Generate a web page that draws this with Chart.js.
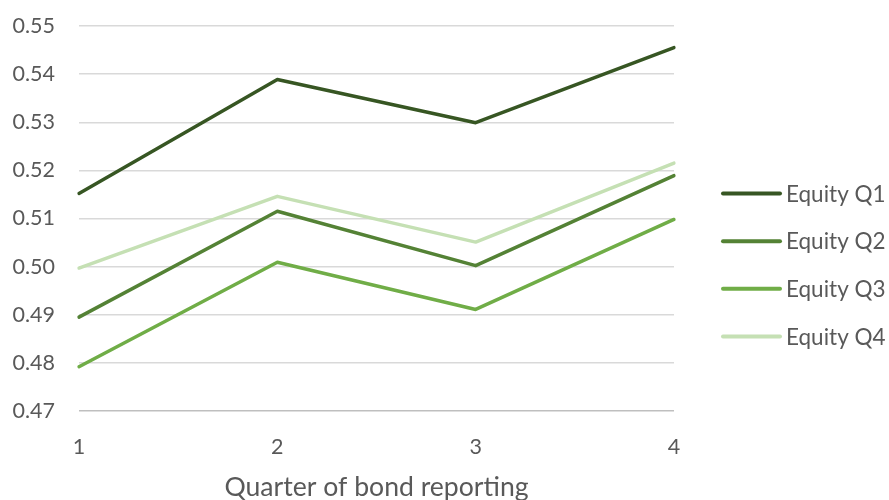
<!DOCTYPE html>
<html>
<head>
<meta charset="utf-8">
<script src="https://cdn.jsdelivr.net/npm/chart.js@4"></script>
<style>
  html, body { margin: 0; padding: 0; background: #ffffff; }
  #wrap { width: 889px; height: 500px; }
</style>
</head>
<body>
<div id="wrap"><canvas id="chart" width="889" height="500"></canvas></div>
<script>
// Quarters on the x axis
const quarters = ['1', '2', '3', '4'];

// Series values per equity quartile
const equityQ1 = [0.5152, 0.5389, 0.5299, 0.5455];
const equityQ2 = [0.4895, 0.5115, 0.5002, 0.5189];
const equityQ3 = [0.4792, 0.5009, 0.4911, 0.5098];
const equityQ4 = [0.4997, 0.5146, 0.5051, 0.5215];

const seriesNames = ['Equity Q1', 'Equity Q2', 'Equity Q3', 'Equity Q4'];
const seriesColors = ['#375623', '#548235', '#70ad47', '#c5e0b4'];

// Y axis range and step
const yMin = 0.47;
const yMax = 0.55;
const yStep = 0.01;

const textColor = '#595959';
const fontFamily = 'Lato, "Open Sans", sans-serif';

const seriesValues = [equityQ1, equityQ2, equityQ3, equityQ4];

const datasets = seriesValues.map((vals, i) => ({
  label: seriesNames[i],
  data: vals,
  borderColor: seriesColors[i],
  backgroundColor: seriesColors[i],
  borderWidth: 3.5,
  borderCapStyle: 'round',
  borderJoinStyle: 'round',
  pointRadius: 0,
  pointHoverRadius: 0,
  tension: 0,
  fill: false
}));

// Legend drawn to the right of the plot area, one row per series
const sideLegend = {
  id: 'sideLegend',
  afterDraw(chart) {
    const { ctx, chartArea } = chart;
    const lineStart = chartArea.right + 49;
    const lineLen = 57;
    const textGap = 6;
    const rowStep = 47.7;
    const sets = chart.data.datasets;
    const midY = chart.height / 2 + 15;
    const firstY = midY - rowStep * (sets.length - 1) / 2;
    ctx.save();
    ctx.font = '22.5px ' + fontFamily;
    ctx.textBaseline = 'middle';
    ctx.textAlign = 'left';
    sets.forEach((ds, i) => {
      const y = firstY + i * rowStep;
      ctx.strokeStyle = ds.borderColor;
      ctx.lineWidth = 4;
      ctx.lineCap = 'round';
      ctx.beginPath();
      ctx.moveTo(lineStart, y);
      ctx.lineTo(lineStart + lineLen, y);
      ctx.stroke();
      ctx.fillStyle = textColor;
      ctx.fillText(ds.label, lineStart + lineLen + textGap, y + 1);
    });
    ctx.restore();
  }
};

new Chart(document.getElementById('chart'), {
  type: 'line',
  data: { labels: quarters, datasets: datasets },
  plugins: [sideLegend],
  options: {
    responsive: false,
    animation: false,
    devicePixelRatio: 1,
    layout: { padding: { top: 26, right: 215, bottom: 0, left: 10 } },
    plugins: {
      tooltip: { enabled: false },
      legend: { display: false }
    },
    scales: {
      x: {
        type: 'category',
        offset: false,
        afterFit: (scale) => { scale.height = 89; },
        grid: { display: false, drawTicks: false },
        border: { display: false },
        ticks: {
          color: textColor,
          padding: 23,
          font: { family: fontFamily, size: 21.5 }
        },
        title: {
          display: true,
          text: 'Quarter of bond reporting',
          color: textColor,
          padding: { top: 0, bottom: -3 },
          font: { family: fontFamily, size: 26.6 }
        }
      },
      y: {
        min: yMin,
        max: yMax,
        afterFit: (scale) => {
          scale.width = 69;
          scale.paddingTop = 13;
          scale.paddingBottom = 13;
        },
        grid: {
          color: (ctx) => ctx.tick && Math.abs(ctx.tick.value - yMin) < 1e-9 ? '#bfbfbf' : '#d9d9d9',
          lineWidth: 1.5,
          drawTicks: false
        },
        border: { display: false },
        ticks: {
          stepSize: yStep,
          color: textColor,
          padding: 24,
          font: { family: fontFamily, size: 21.5 },
          callback: (v) => Number(v).toFixed(2)
        }
      }
    }
  }
});
</script>
</body>
</html>
